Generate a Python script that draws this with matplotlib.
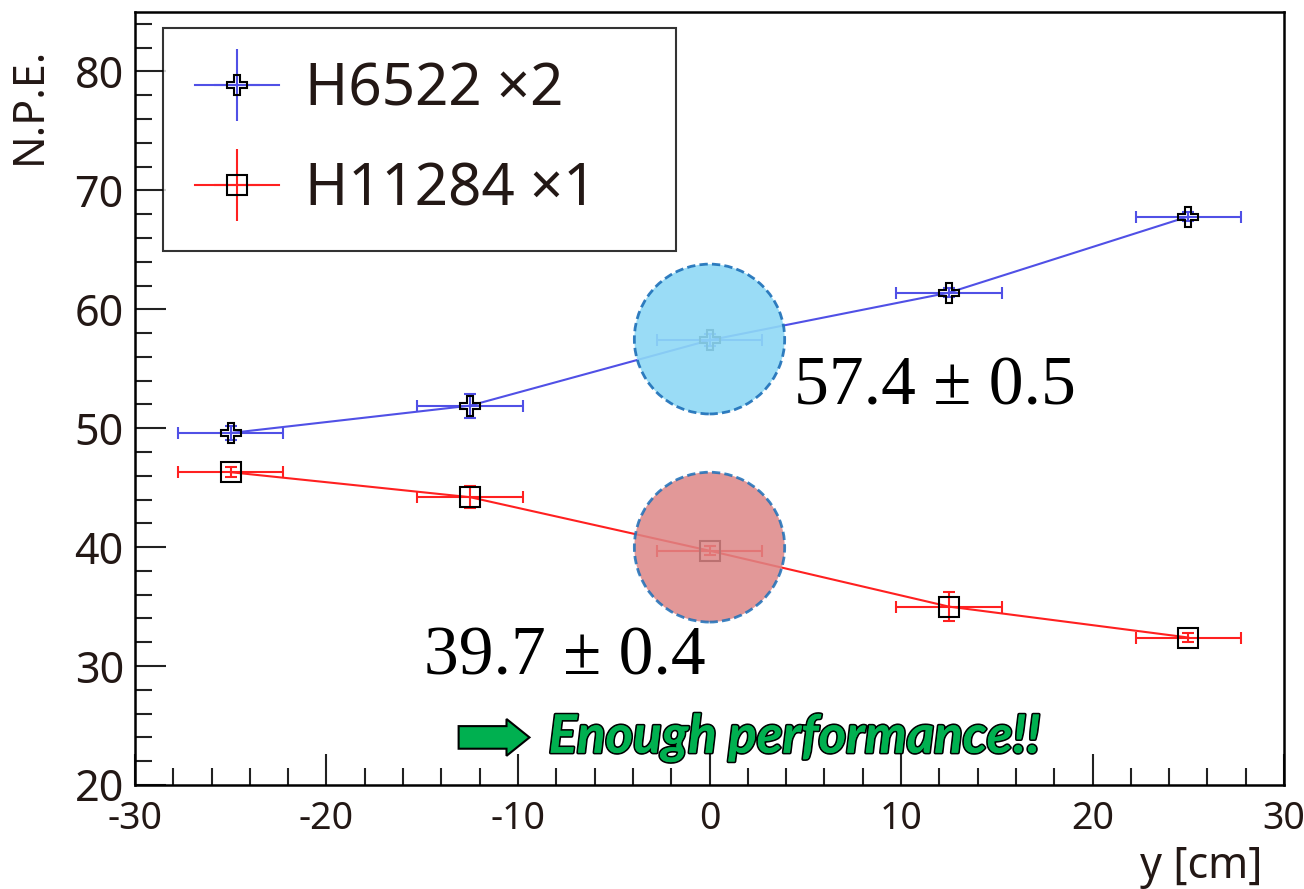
import numpy as np
import matplotlib
matplotlib.use('Agg')
import matplotlib.pyplot as plt
from matplotlib.patches import Ellipse, FancyArrow
from matplotlib.ticker import MultipleLocator
from matplotlib.container import ErrorbarContainer
from matplotlib.legend_handler import HandlerErrorbar
import matplotlib.patheffects as pe

# beam position and measured photoelectrons
y_pos = [-25, -12.5, 0, 12.5, 25]
x_err = [2.75, 2.75, 2.75, 2.75, 2.75]

npe_h6522 = [49.6, 51.9, 57.4, 61.4, 67.8]
err_h6522 = [0.6, 1.0, 0.5, 0.4, 0.4]

npe_h11284 = [46.3, 44.2, 39.7, 35.0, 32.4]
err_h11284 = [0.4, 0.9, 0.4, 1.2, 0.4]

label_h6522 = "H6522 \u00d72"
label_h11284 = "H11284 \u00d71"

plt.rcParams['font.family'] = ['Noto Sans', 'DejaVu Sans']
plt.rcParams['axes.unicode_minus'] = False

fig = plt.figure(figsize=(13.04, 8.89), dpi=100)
ax = fig.add_axes([0.1035, 0.117, 0.8812, 0.8695])

blue = '#5050e6'
red = '#ff2020'

style = dict(lw=1.5, elinewidth=1.5, capthick=1.5, ms=15, mfc='none',
             mec='black', mew=1.5, zorder=3)
ax.errorbar(y_pos, npe_h6522, xerr=x_err, yerr=err_h6522, color=blue,
            marker='P', capsize=4, **style)
ax.errorbar(y_pos, npe_h11284, xerr=x_err, yerr=err_h11284, color=red,
            marker='s', capsize=4, **style)

# legend entries drawn without caps, like the original
h1 = ax.errorbar([np.nan], [np.nan], xerr=[1], yerr=[1], color=blue,
                 marker='P', capsize=0, label=label_h6522, **style)
h2 = ax.errorbar([np.nan], [np.nan], xerr=[1], yerr=[1], color=red,
                 marker='s', capsize=0, label=label_h11284, **style)

# highlight circles around the y = 0 points
ax.add_patch(Ellipse((y_pos[2], npe_h6522[2] + 0.1), 7.85, 12.6,
                     facecolor='#8fd9f6', edgecolor='#1c6fb8', lw=2,
                     ls=(0, (3, 1.5)), alpha=0.9, zorder=4))
ax.add_patch(Ellipse((y_pos[2], npe_h11284[2] + 0.3), 7.85, 12.6,
                     facecolor='#dd8686', edgecolor='#1c6fb8', lw=2,
                     ls=(0, (3, 1.5)), alpha=0.85, zorder=4))

ax.text(4.4, 53.4, "57.4 \u00b1 0.5", fontsize=50, family='Liberation Serif',
        va='center', ha='left')
ax.text(-14.9, 30.7, "39.7 \u00b1 0.4", fontsize=50, family='Liberation Serif',
        va='center', ha='left')

ax.add_patch(FancyArrow(-13.1, 24.0, 2.5, 0, width=1.9, head_width=3.1,
                        head_length=1.2, length_includes_head=False,
                        facecolor='#00b050', edgecolor='black', lw=1.5, zorder=5))
ax.text(-8.4, 24.0, "Enough performance!!", fontsize=38, color='#00b050',
        fontweight='bold', fontstyle='italic', family='Lato',
        va='center', ha='left',
        path_effects=[pe.withStroke(linewidth=2.5, foreground='black'), pe.Normal()])

ax.set_xlim(-30, 30)
ax.set_ylim(20, 85)
ax.xaxis.set_major_locator(MultipleLocator(10))
ax.xaxis.set_minor_locator(MultipleLocator(2))
ax.yaxis.set_major_locator(MultipleLocator(10))
ax.yaxis.set_minor_locator(MultipleLocator(2))
ax.tick_params(which='both', direction='in', width=1.5,
               top=False, right=False, color='#222222', labelcolor='#231815')
ax.tick_params(which='major', length=22)
ax.tick_params(which='minor', length=12)
ax.tick_params(axis='x', pad=11, labelsize=27)
ax.tick_params(axis='y', pad=8, labelsize=31)
for s in ax.spines.values():
    s.set_linewidth(1.8)

ax.set_xlabel("y [cm]", fontsize=31, color='#231815')
ax.xaxis.set_label_coords(0.981, -0.078)
ax.xaxis.label.set_ha('right')
ax.xaxis.label.set_va('top')
ax.set_ylabel("N.P.E.", fontsize=31, color='#231815')
ax.yaxis.set_label_coords(-0.072, 0.955)
ax.yaxis.label.set_ha('right')

leg = ax.legend(handles=[h1, h2], loc='upper left',
                bbox_to_anchor=(0.024, 0.979 - 0.287, 0.447, 0.287),
                mode='expand', fontsize=42, frameon=True,
                fancybox=False, edgecolor='black', handlelength=1.45,
                borderpad=0.55, labelspacing=0.7, handletextpad=0.45,
                borderaxespad=0,
                handler_map={ErrorbarContainer: HandlerErrorbar(xerr_size=0.4,
                                                               yerr_size=0.62)})
leg.get_frame().set_linewidth(1.5)
for t in leg.get_texts():
    t.set_color('#231815')

fig.savefig('out.png', dpi=100)
